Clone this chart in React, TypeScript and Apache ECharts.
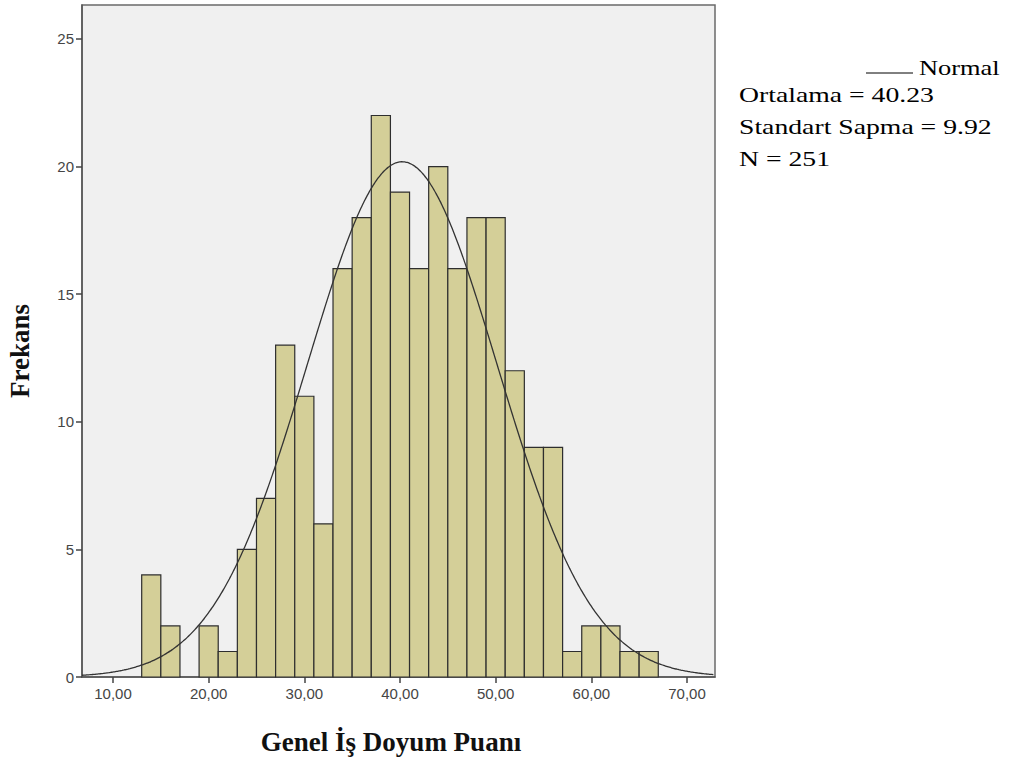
import React, { useEffect, useRef } from "react";
import * as echarts from "echarts";

// Histogram bins (lower edge, upper edge) and frequencies
const binStarts = [13, 15, 17, 19, 21, 23, 25, 27, 29, 31, 33, 35, 37, 39, 41, 43, 45, 47, 49, 51, 53, 55, 57, 59, 61, 63, 65];
const binWidth = 2;
const frequencies = [4, 2, 0, 2, 1, 5, 7, 13, 11, 6, 16, 18, 22, 19, 16, 20, 16, 18, 18, 12, 9, 9, 1, 2, 2, 1, 1];

// Fitted normal distribution parameters (from the legend)
const meanValue = 40.23;
const sdValue = 9.92;
const nValue = 251;

const xTickValues = [10, 20, 30, 40, 50, 60, 70];
const yTickValues = [0, 5, 10, 15, 20, 25];

const legendLines = ["Ortalama = 40.23", "Standart Sapma = 9.92", "N = 251"];

const X_MIN = 6.76;
const X_MAX = 72.93;
const Y_MAX = 26.33;

export default function App() {
  const ref = useRef<HTMLDivElement>(null);

  useEffect(() => {
    if (!ref.current) return;
    const chart = echarts.init(ref.current, null, { renderer: "svg" });

    const histData = binStarts
      .map((s, i) => [s, s + binWidth, frequencies[i]])
      .filter((d) => d[2] > 0);

    const curve: number[][] = [];
    for (let x = X_MIN; x <= X_MAX + 1e-9; x += 0.2) {
      const z = (x - meanValue) / sdValue;
      const y = (nValue * binWidth) / (sdValue * Math.sqrt(2 * Math.PI)) * Math.exp(-0.5 * z * z);
      curve.push([x, y]);
    }

    const serif = "'Liberation Serif', 'Times New Roman', serif";
    const sans = "'Liberation Sans', Arial, sans-serif";

    chart.setOption({
      animation: false,
      backgroundColor: "#ffffff",
      grid: {
        left: 82,
        right: 294,
        top: 5,
        bottom: 81,
        show: true,
        backgroundColor: "#f0f0f0",
        borderColor: "#6a6a6a",
        borderWidth: 1.5,
      },
      xAxis: {
        type: "value",
        min: X_MIN,
        max: X_MAX,
        splitLine: { show: false },
        axisLine: { show: true, onZero: false, lineStyle: { color: "#555", width: 1.5 } },
        axisTick: { show: true, length: 6, customValues: xTickValues, lineStyle: { color: "#444", width: 1.5 } },
        axisLabel: {
          customValues: xTickValues,
          formatter: (v: number) => v.toFixed(2).replace(".", ","),
          color: "#454545",
          fontFamily: sans,
          fontSize: 15,
          margin: 9,
        },
      },
      yAxis: {
        type: "value",
        min: 0,
        max: Y_MAX,
        splitLine: { show: false },
        axisLine: { show: true, lineStyle: { color: "#555", width: 1.5 } },
        axisTick: { show: true, length: 6, customValues: yTickValues, lineStyle: { color: "#444", width: 1.5 } },
        axisLabel: {
          customValues: yTickValues,
          color: "#454545",
          fontFamily: sans,
          fontSize: 15,
          margin: 8,
        },
      },
      series: [
        {
          type: "custom",
          data: histData,
          encode: { x: [0, 1], y: 2 },
          renderItem: (params: any, api: any) => {
            const p0 = api.coord([api.value(0), api.value(2)]);
            const p1 = api.coord([api.value(1), 0]);
            return {
              type: "rect",
              shape: { x: p0[0], y: p0[1], width: p1[0] - p0[0], height: p1[1] - p0[1] },
              style: { fill: "#d4cf98", stroke: "#2e2e2e", lineWidth: 1.2 },
            };
          },
          z: 2,
        },
        {
          type: "line",
          data: curve,
          showSymbol: false,
          smooth: true,
          lineStyle: { color: "#333", width: 1.3 },
          z: 3,
        },
      ],
      graphic: [
        {
          type: "line",
          shape: { x1: 866, y1: 73, x2: 913, y2: 73 },
          style: { stroke: "#000", lineWidth: 1 },
        },
        {
          type: "text",
          x: 919,
          y: 67,
          scaleX: 1.2,
          style: { text: "Normal", font: `22px ${serif}`, fill: "#000", verticalAlign: "middle" },
        },
        ...legendLines.map((t, i) => ({
          type: "text",
          x: 739,
          y: 95 + i * 32,
          scaleX: 1.26,
          style: { text: t, font: `22px ${serif}`, fill: "#000", verticalAlign: "middle" },
        })),
        {
          type: "text",
          x: 391,
          y: 742,
          style: {
            text: "Genel İş Doyum Puanı",
            font: `bold 27px ${serif}`,
            fill: "#111",
            align: "center",
            verticalAlign: "middle",
          },
        },
        {
          type: "text",
          x: 20,
          y: 351,
          rotation: Math.PI / 2,
          style: {
            text: "Frekans",
            font: `bold 27px ${serif}`,
            fill: "#111",
            align: "center",
            verticalAlign: "middle",
          },
        },
      ],
    });

    return () => chart.dispose();
  }, []);

  return <div ref={ref} style={{ position: "fixed", left: 0, top: 0, width: 1009, height: 758 }} />;
}
